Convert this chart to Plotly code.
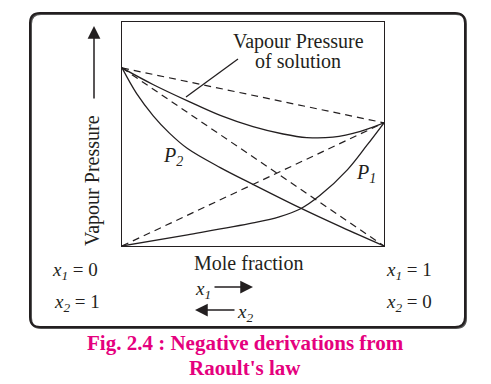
import plotly.graph_objects as go

# ---- data (mole fraction of component 1, relative vapour pressure) ----
p2_pure = 0.795   # vapour pressure of pure component 2 (x1 = 0)
p1_pure = 0.55    # vapour pressure of pure component 1 (x1 = 1)

p2_x = [0, 0.056, 0.12, 0.18, 0.25, 0.375, 0.50, 0.68, 0.84, 1.0]
p2_y = [0.795, 0.68, 0.58, 0.505, 0.435, 0.35, 0.275, 0.170, 0.083, 0.0]

p1_x = [0, 0.25, 0.50, 0.60, 0.68, 0.755, 0.86, 0.935, 1.0]
p1_y = [0, 0.050, 0.103, 0.130, 0.165, 0.225, 0.34, 0.45, 0.55]

tot_x = [0, 0.12, 0.25, 0.375, 0.50, 0.615, 0.705, 0.805, 0.91, 1.0]
tot_y = [0.795, 0.72, 0.648, 0.583, 0.533, 0.500, 0.484, 0.486, 0.512, 0.55]

ends = [0, 1]

# pixel geometry helpers (plot area 122..384 x, 22..246 y)
L, R, T, B = 122, 384, 22, 246
W, H = R - L, B - T
def px(x): return (x - L) / W
def py(y): return (B - y) / H

INK = "#231f20"
SERIF = "Liberation Serif"
MAG = "#e5007e"

fig = go.Figure()
dash = "7px,5px"
# ideal (dashed) lines
fig.add_trace(go.Scatter(x=ends, y=[p2_pure, 0], mode="lines",
                         line=dict(color=INK, width=1.2, dash=dash)))
fig.add_trace(go.Scatter(x=ends, y=[0, p1_pure], mode="lines",
                         line=dict(color=INK, width=1.2, dash=dash)))
fig.add_trace(go.Scatter(x=ends, y=[p2_pure, p1_pure], mode="lines",
                         line=dict(color=INK, width=1.2, dash=dash)))
# real (solid) curves
for xs, ys in [(p2_x, p2_y), (p1_x, p1_y), (tot_x, tot_y)]:
    fig.add_trace(go.Scatter(x=xs, y=ys, mode="lines",
                             line=dict(color=INK, width=1.3, shape="spline", smoothing=1.0)))

ann = []
def txt(x, y, s, size=20, color=INK, **kw):
    d = dict(x=px(x), y=py(y), xref="paper", yref="paper", text=s, showarrow=False,
             xanchor="center", yanchor="middle",
             font=dict(family=SERIF, size=size, color=color))
    d.update(kw)
    ann.append(d)

txt(298, 41, "Vapour Pressure")
txt(298, 61, "of solution")
txt(173, 156, "<i>P<sub>2</sub></i>", size=20)
txt(366, 173, "<i>P<sub>1</sub></i>", size=20)
txt(92, 181, "Vapour Pressure", textangle=-90)
txt(248, 263, "Mole fraction")
txt(75, 271, "<i>x<sub>1</sub></i> = 0", size=19)
txt(77, 303, "<i>x<sub>2</sub></i> = 1", size=19)
txt(409, 271, "<i>x<sub>1</sub></i> = 1", size=19)
txt(409, 303, "<i>x<sub>2</sub></i> = 0", size=19)
txt(203, 290, "<i>x<sub>1</sub></i>", size=19)
txt(245, 313, "<i>x<sub>2</sub></i>", size=19)
# caption
txt(245, 343, "<b>Fig. 2.4 : Negative derivations from</b>", size=21, color=MAG)
txt(245, 368, "<b>Raoult's law</b>", size=21, color=MAG)

# arrows
def arrow(x0, y0, x1, y1):
    ann.append(dict(x=px(x1), y=py(y1), xref="paper", yref="paper",
                    ax=x0 - x1, ay=y0 - y1, text="", showarrow=True,
                    arrowhead=2, arrowsize=1.7, arrowwidth=1.5, arrowcolor=INK))
arrow(94, 100, 94, 26)
arrow(213, 287, 253, 287)
arrow(236, 310, 195, 310)

fig.update_layout(annotations=ann)

# pointer line
shapes = [dict(type="line", xref="paper", yref="paper",
               x0=px(238), y0=py(59), x1=px(186), y1=py(97),
               line=dict(color=INK, width=1.3))]

# rounded outer frame
x0, x1, y0, y1, r = 30, 465, 13, 327, 10
def rpath(x0, y0, x1, y1, r):
    return (f"M {px(x0+r)},{py(y0)} L {px(x1-r)},{py(y0)} Q {px(x1)},{py(y0)} {px(x1)},{py(y0+r)} "
            f"L {px(x1)},{py(y1-r)} Q {px(x1)},{py(y1)} {px(x1-r)},{py(y1)} "
            f"L {px(x0+r)},{py(y1)} Q {px(x0)},{py(y1)} {px(x0)},{py(y1-r)} "
            f"L {px(x0)},{py(y0+r)} Q {px(x0)},{py(y0)} {px(x0+r)},{py(y0)} Z")
shapes.append(dict(type="path", xref="paper", yref="paper",
                   path=rpath(x0 + 1, y0 + 1, x1 + 1, y1 + 1, r),
                   line=dict(color="#555555", width=2)))
shapes.append(dict(type="path", xref="paper", yref="paper",
                   path=rpath(x0, y0, x1, y1, r), fillcolor="rgba(0,0,0,0)",
                   line=dict(color=INK, width=2)))
fig.update_layout(shapes=shapes)

fig.update_xaxes(range=[0, 1], showgrid=False, zeroline=False, showticklabels=False, ticks="",
                 showline=True, mirror=True, linecolor=INK, linewidth=1.3)
fig.update_yaxes(range=[0, 1], showgrid=False, zeroline=False, showticklabels=False, ticks="",
                 showline=True, mirror=True, linecolor=INK, linewidth=1.3)

fig.update_layout(width=491, height=384, showlegend=False,
                  margin=dict(l=L, r=491 - R, t=T, b=384 - B),
                  paper_bgcolor="white", plot_bgcolor="white")

fig.write_html("out.html", config={"displayModeBar": False},
               post_script="document.body.style.margin='0';document.body.style.overflow='hidden';")
